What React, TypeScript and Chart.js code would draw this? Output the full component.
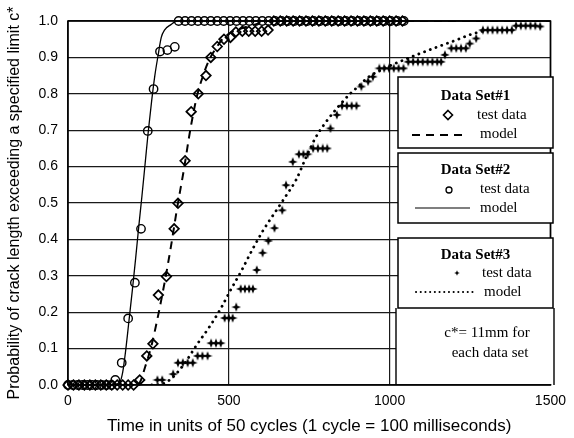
import React, { useEffect, useRef } from 'react';
import { Chart, registerables } from 'chart.js';

Chart.register(...registerables);

// ---------- axis ----------
const xTitle = 'Time in units of 50 cycles (1 cycle = 100 milliseconds)';
const yTitle = 'Probability of crack length exceeding a specified limit c*';
const xMin = 0;
const xMax = 1500;
const xStep = 500;
const yMin = 0;
const yMax = 1;
const yStep = 0.1;

// ---------- legend texts ----------
const legendTitles = ['Data Set#1', 'Data Set#2', 'Data Set#3'];
const testLabel = 'test data';
const modelLabel = 'model';
const noteLines = ['c*= 11mm for', 'each data set'];

// ---------- Data Set #1 (diamonds, dashed model) ----------
const set1Test: [number, number][] = [
  [0, 0], [17, 0], [34, 0], [51, 0], [68, 0], [85, 0], [102, 0], [119, 0], [136, 0],
  [153, 0], [170, 0], [187, 0], [204, 0],
  [223, 0.014], [245, 0.08], [264, 0.113], [281, 0.247], [306, 0.298], [330, 0.429],
  [342, 0.499], [364, 0.616], [383, 0.751], [405, 0.8], [429, 0.85], [444, 0.9],
  [464, 0.93], [485, 0.95], [505, 0.955], [522, 0.97], [542, 0.972], [562, 0.972],
  [582, 0.972], [602, 0.972], [622, 0.975],
  [640, 1], [660, 1], [680, 1], [700, 1], [720, 1], [740, 1], [760, 1], [780, 1],
  [800, 1], [820, 1], [840, 1], [860, 1], [880, 1], [900, 1], [920, 1], [940, 1],
  [960, 1], [980, 1], [1000, 1], [1020, 1], [1040, 1],
];
const set1Model: [number, number][] = [
  [0, 0], [215, 0], [225, 0.01], [240, 0.05], [260, 0.11], [280, 0.19], [300, 0.28],
  [320, 0.38], [340, 0.49], [360, 0.59], [380, 0.7], [400, 0.79], [420, 0.85],
  [440, 0.895], [460, 0.925], [480, 0.95], [500, 0.965], [540, 0.98], [580, 0.99],
  [620, 1], [1500, 1],
];

// ---------- Data Set #2 (circles, solid model) ----------
const set2Test: [number, number][] = [
  [0, 0], [15, 0], [30, 0], [45, 0], [60, 0], [75, 0], [90, 0], [105, 0], [120, 0], [135, 0],
  [147, 0.014], [167, 0.061], [187, 0.183], [208, 0.281], [227, 0.429], [248, 0.698],
  [266, 0.813], [286, 0.916], [309, 0.92], [332, 0.929],
  [344, 1], [364, 1], [384, 1], [404, 1], [424, 1], [444, 1], [464, 1], [484, 1],
  [504, 1], [524, 1], [544, 1], [564, 1], [584, 1], [604, 1], [624, 1], [644, 1],
  [664, 1], [684, 1], [704, 1], [724, 1], [744, 1], [764, 1], [784, 1], [804, 1],
  [824, 1], [844, 1], [864, 1], [884, 1], [904, 1], [924, 1], [944, 1], [964, 1],
  [984, 1], [1004, 1], [1024, 1], [1044, 1],
];
const set2Model: [number, number][] = [
  [0, 0], [150, 0], [160, 0.005], [170, 0.035], [180, 0.1], [190, 0.18], [200, 0.26],
  [210, 0.345], [220, 0.435], [230, 0.52], [240, 0.61], [250, 0.7], [260, 0.78],
  [270, 0.85], [280, 0.905], [290, 0.955], [300, 0.975], [320, 0.99], [340, 1], [1500, 1],
];

// ---------- Data Set #3 (stars, dotted model) ----------
const set3Test: [number, number][] = [
  [278, 0.014], [293, 0.014], [327, 0.03],
  [342, 0.061], [357, 0.061], [372, 0.061], [388, 0.061],
  [403, 0.08], [418, 0.08], [434, 0.08],
  [445, 0.115], [460, 0.115], [475, 0.115],
  [487, 0.184], [500, 0.184], [512, 0.184], [523, 0.214],
  [537, 0.264], [550, 0.264], [563, 0.264], [575, 0.264],
  [587, 0.316], [605, 0.363], [623, 0.396], [642, 0.431], [666, 0.48], [678, 0.549],
  [699, 0.613], [718, 0.634], [732, 0.634], [745, 0.634],
  [762, 0.65], [777, 0.65], [792, 0.65], [806, 0.65],
  [816, 0.705], [836, 0.742],
  [852, 0.767], [867, 0.767], [882, 0.767], [897, 0.767],
  [912, 0.82], [933, 0.834], [948, 0.847],
  [968, 0.87], [983, 0.87], [998, 0.87], [1013, 0.87], [1028, 0.87], [1043, 0.87],
  [1058, 0.888], [1073, 0.888], [1088, 0.888], [1103, 0.888], [1118, 0.888], [1133, 0.888],
  [1148, 0.888], [1160, 0.888],
  [1172, 0.907], [1192, 0.925], [1207, 0.925], [1222, 0.925], [1237, 0.925],
  [1249, 0.938], [1269, 0.952],
  [1290, 0.975], [1305, 0.975], [1320, 0.975], [1335, 0.975], [1350, 0.975], [1365, 0.975],
  [1380, 0.975],
  [1393, 0.987], [1408, 0.987], [1423, 0.987], [1438, 0.987], [1453, 0.987], [1468, 0.985],
];
const set3Model: [number, number][] = [
  [260, 0], [300, 0.005], [330, 0.025], [363, 0.06], [400, 0.11], [440, 0.16], [475, 0.21],
  [505, 0.26], [540, 0.315], [572, 0.37], [607, 0.425], [648, 0.48], [678, 0.52],
  [710, 0.565], [740, 0.625], [770, 0.68], [800, 0.72], [836, 0.76], [877, 0.8],
  [902, 0.82], [933, 0.845], [984, 0.87], [1055, 0.897], [1137, 0.925], [1208, 0.948],
  [1249, 0.962], [1300, 0.975],
];

const toPts = (arr: [number, number][]) => arr.map(([x, y]) => ({ x, y }));

function makeStar(size: number, innerRatio: number): HTMLCanvasElement {
  const c = document.createElement('canvas');
  c.width = size;
  c.height = size;
  const g = c.getContext('2d')!;
  const m = size / 2;
  const outer = size / 2 - 0.2;
  const inner = size * innerRatio;
  g.beginPath();
  for (let i = 0; i < 8; i++) {
    const a = (Math.PI / 4) * i - Math.PI / 2;
    const r = i % 2 === 0 ? outer : inner;
    const px = m + r * Math.cos(a);
    const py = m + r * Math.sin(a);
    if (i === 0) g.moveTo(px, py);
    else g.lineTo(px, py);
  }
  g.closePath();
  g.fillStyle = '#000';
  g.fill();
  return c;
}

const SANS = '"Liberation Sans", Arial, Helvetica, sans-serif';
const SERIF = '"Liberation Serif", "Times New Roman", serif';

export default function App() {
  const ref = useRef<HTMLCanvasElement | null>(null);

  useEffect(() => {
    document.body.style.margin = '0';
    const canvas = ref.current;
    if (!canvas) return;
    const star = makeStar(10, 0.19);
    const starSmall = makeStar(6, 0.2);

    const overlay = {
      id: 'overlay',
      afterDatasetsDraw(chart: any) {
        const { ctx, chartArea: ca } = chart;
        ctx.save();
        // plot frame
        ctx.strokeStyle = '#000';
        ctx.lineWidth = 1.6;
        ctx.setLineDash([]);
        ctx.strokeRect(ca.left, ca.top, ca.right - ca.left, ca.bottom - ca.top);

        const bx = 398;
        const bw = 155;
        const boxes = [
          [77, 71],
          [153, 70],
          [238, 70],
        ];
        // note area (below the third box)
        ctx.fillStyle = '#fff';
        ctx.fillRect(396, 308, 158, ca.bottom - 308 - 1);
        ctx.beginPath();
        ctx.lineWidth = 1.4;
        ctx.moveTo(396, 308);
        ctx.lineTo(396, ca.bottom);
        ctx.moveTo(554, 308);
        ctx.lineTo(554, ca.bottom);
        ctx.stroke();

        boxes.forEach(([by, bh]) => {
          ctx.fillStyle = '#fff';
          ctx.fillRect(bx, by, bw, bh);
          ctx.lineWidth = 1.5;
          ctx.strokeStyle = '#000';
          ctx.strokeRect(bx, by, bw, bh);
        });

        ctx.fillStyle = '#000';
        ctx.textBaseline = 'middle';
        ctx.textAlign = 'center';
        ctx.font = `bold 15px ${SERIF}`;
        ctx.fillText(legendTitles[0], 475.5, 96);
        ctx.fillText(legendTitles[1], 475.5, 170);
        ctx.fillText(legendTitles[2], 475.5, 255);

        ctx.font = `15px ${SERIF}`;
        ctx.textAlign = 'left';
        ctx.fillText(testLabel, 477, 115);
        ctx.fillText(modelLabel, 480, 134);
        ctx.fillText(testLabel, 480, 189);
        ctx.fillText(modelLabel, 480, 208);
        ctx.fillText(testLabel, 482, 273);
        ctx.fillText(modelLabel, 484, 292);

        ctx.textAlign = 'center';
        ctx.fillText(noteLines[0], 487, 333);
        ctx.fillText(noteLines[1], 490, 353);

        // legend symbols
        ctx.strokeStyle = '#000';
        ctx.lineWidth = 1.6;
        ctx.beginPath();
        ctx.moveTo(448, 110.5);
        ctx.lineTo(452.5, 115);
        ctx.lineTo(448, 119.5);
        ctx.lineTo(443.5, 115);
        ctx.closePath();
        ctx.stroke();
        ctx.lineWidth = 2;
        ctx.setLineDash([8, 6]);
        ctx.beginPath();
        ctx.moveTo(412, 135);
        ctx.lineTo(468, 135);
        ctx.stroke();
        ctx.setLineDash([]);
        ctx.lineWidth = 1.3;
        ctx.beginPath();
        ctx.arc(449, 190, 3, 0, Math.PI * 2);
        ctx.stroke();
        ctx.lineWidth = 1.2;
        ctx.beginPath();
        ctx.moveTo(415, 208);
        ctx.lineTo(470, 208);
        ctx.stroke();
        ctx.drawImage(starSmall, 457 - 3, 273 - 3);
        ctx.lineWidth = 2;
        ctx.lineCap = 'round';
        ctx.setLineDash([0.1, 4.6]);
        ctx.beginPath();
        ctx.moveTo(416, 292);
        ctx.lineTo(477, 292);
        ctx.stroke();
        ctx.restore();
      },
    };

    const chart = new Chart(canvas, {
      type: 'scatter',
      data: {
        datasets: [
          {
            label: 'Data Set#1 model',
            data: toPts(set1Model),
            showLine: true,
            borderColor: '#000',
            borderWidth: 2,
            borderDash: [8, 6],
            pointRadius: 0,
            cubicInterpolationMode: 'monotone',
          },
          {
            label: 'Data Set#2 model',
            data: toPts(set2Model),
            showLine: true,
            borderColor: '#000',
            borderWidth: 1.3,
            pointRadius: 0,
            cubicInterpolationMode: 'monotone',
          },
          {
            label: 'Data Set#3 model',
            data: toPts(set3Model),
            showLine: true,
            borderColor: '#000',
            borderWidth: 2.8,
            borderDash: [0.1, 6],
            borderCapStyle: 'round',
            pointRadius: 0,
            cubicInterpolationMode: 'monotone',
          },
          {
            label: 'Data Set#1 test data',
            data: toPts(set1Test),
            pointStyle: 'rectRot',
            pointRadius: 4.8,
            borderWidth: 1.7,
            borderColor: '#000',
            backgroundColor: 'rgba(0,0,0,0)',
            clip: false,
          },
          {
            label: 'Data Set#2 test data',
            data: toPts(set2Test),
            pointStyle: 'circle',
            pointRadius: 4.2,
            borderWidth: 1.4,
            borderColor: '#000',
            backgroundColor: 'rgba(0,0,0,0)',
            clip: false,
          },
          {
            label: 'Data Set#3 test data',
            data: toPts(set3Test),
            pointStyle: star as any,
            pointRadius: 5,
            borderColor: '#000',
            backgroundColor: '#000',
            clip: false,
          },
        ],
      },
      options: {
        animation: false,
        responsive: false,
        maintainAspectRatio: false,
        layout: { padding: { left: 0, right: 15, top: 21, bottom: 0 } },
        plugins: {
          legend: { display: false },
          tooltip: { enabled: false },
        },
        scales: {
          x: {
            type: 'linear',
            min: xMin,
            max: xMax,
            afterFit: (s: any) => {
              s.height = 53;
            },
            ticks: {
              stepSize: xStep,
              color: '#000',
              padding: 8,
              maxRotation: 0,
              font: { family: SANS, size: 14 },
              callback: (v: any) => String(v),
            },
            grid: { color: '#1a1a1a', lineWidth: 1.2, drawTicks: false },
            border: { display: false },
            title: {
              display: true,
              text: xTitle,
              color: '#000',
              font: { family: SANS, size: 17 },
              padding: { top: 0, bottom: 1 },
            },
          },
          y: {
            type: 'linear',
            min: yMin,
            max: yMax,
            afterFit: (s: any) => {
              s.width = 68;
            },
            ticks: {
              stepSize: yStep,
              color: '#000',
              padding: 10,
              font: { family: SANS, size: 14 },
              callback: (v: any) => Number(v).toFixed(1),
            },
            grid: { color: '#1a1a1a', lineWidth: 1.2, drawTicks: false },
            border: { display: false },
            title: {
              display: true,
              text: yTitle,
              color: '#000',
              font: { family: SANS, size: 16 },
              padding: { top: 5, bottom: 0 },
            },
          },
        },
      },
      plugins: [overlay],
    });
    return () => chart.destroy();
  }, []);

  return (
    <div style={{ position: 'absolute', left: 0, top: 0, width: 574, height: 438, background: '#fff' }}>
      <canvas ref={ref} width={574} height={438} />
    </div>
  );
}
